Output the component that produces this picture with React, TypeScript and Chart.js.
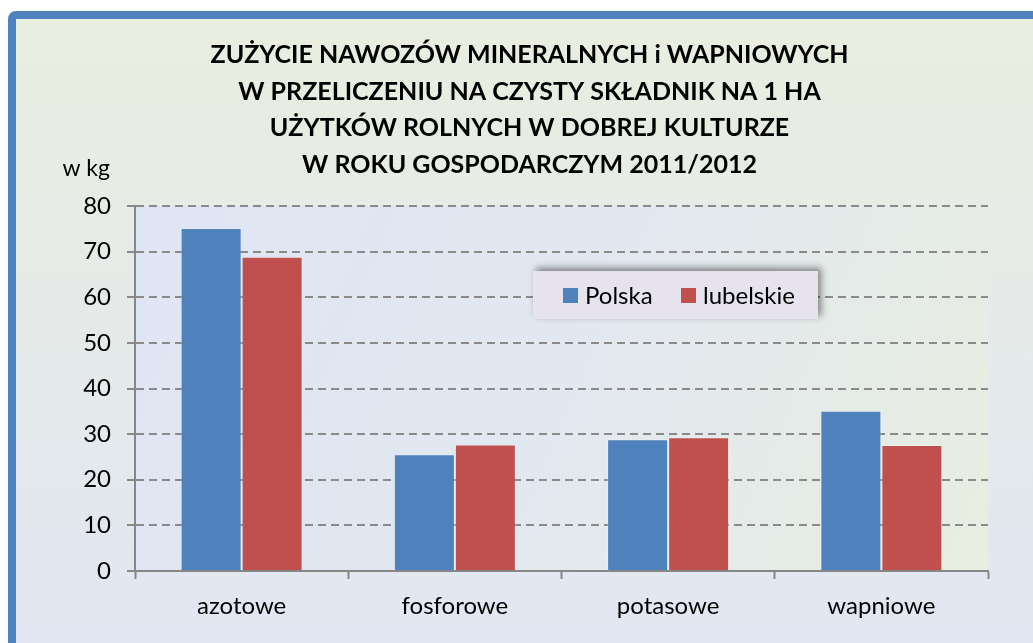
import React, { useEffect, useRef } from "react";
import { Chart, registerables } from "chart.js";

Chart.register(...registerables);

const categories = ["azotowe", "fosforowe", "potasowe", "wapniowe"];
const polska = [75.2, 25.6, 28.9, 35.1];
const lubelskie = [68.9, 27.7, 29.3, 27.6];
const seriesNames = ["Polska", "lubelskie"];
const titleLines = [
  "ZUŻYCIE NAWOZÓW MINERALNYCH i WAPNIOWYCH",
  "W PRZELICZENIU NA CZYSTY SKŁADNIK NA 1 HA",
  "UŻYTKÓW ROLNYCH W DOBREJ KULTURZE",
  "W ROKU GOSPODARCZYM 2011/2012",
];
const unitLabel = "w kg";

const BLUE = "#4f81bd";
const RED = "#c0504d";
const FONT = "Lato, 'Open Sans', sans-serif";

const plotBg = {
  id: "plotBg",
  beforeDraw(chart: any) {
    const { ctx, chartArea: a } = chart;
    const g = ctx.createLinearGradient(a.left, a.top, a.right, a.bottom);
    g.addColorStop(0, "#dfe5f3");
    g.addColorStop(0.5, "#e2e8f0");
    g.addColorStop(1, "#e8eee0");
    ctx.save();
    ctx.fillStyle = g;
    ctx.fillRect(a.left, a.top, a.right - a.left, a.bottom - a.top);
    ctx.restore();
  },
};

const extras = {
  id: "extras",
  afterDraw(chart: any) {
    const { ctx, chartArea: a, width } = chart;
    ctx.save();
    // title
    ctx.fillStyle = "#000";
    ctx.font = `bold 25px ${FONT}`;
    ctx.textAlign = "center";
    ctx.textBaseline = "alphabetic";
    titleLines.forEach((t, i) => {
      ctx.fillText(t, width / 2 + 5, 44 + i * 36.5);
    });
    // unit label
    ctx.font = `23px ${FONT}`;
    ctx.textAlign = "right";
    ctx.fillText(unitLabel, a.left - 25, a.top - 30);
    // legend box
    const bx = a.left + 398;
    const by = a.top + 65;
    const bw = 285;
    const bh = 48;
    ctx.save();
    ctx.shadowColor = "rgba(0,0,0,0.45)";
    ctx.shadowBlur = 7;
    ctx.shadowOffsetX = 3;
    ctx.shadowOffsetY = -3;
    ctx.fillStyle = "#e6e3ee";
    ctx.fillRect(bx, by, bw, bh);
    ctx.restore();
    const colors = [BLUE, RED];
    const offs = [30, 148];
    ctx.font = `24px ${FONT}`;
    ctx.textAlign = "left";
    ctx.textBaseline = "alphabetic";
    seriesNames.forEach((name, i) => {
      const mx = bx + offs[i];
      ctx.fillStyle = colors[i];
      ctx.fillRect(mx, by + 17, 15, 15);
      ctx.fillStyle = "#000";
      ctx.fillText(name, mx + 22, by + 33);
    });
    ctx.restore();
  },
};

export default function App() {
  const ref = useRef<HTMLCanvasElement>(null);
  useEffect(() => {
    if (!ref.current) return;
    const chart = new Chart(ref.current, {
      type: "bar",
      data: {
        labels: categories,
        datasets: [
          {
            label: seriesNames[0],
            data: polska,
            backgroundColor: BLUE,
            borderColor: "rgba(255,255,255,0.25)",
            borderWidth: 1,
            categoryPercentage: 0.572,
            barPercentage: 1,
          },
          {
            label: seriesNames[1],
            data: lubelskie,
            backgroundColor: RED,
            borderColor: "rgba(255,255,255,0.25)",
            borderWidth: 1,
            categoryPercentage: 0.572,
            barPercentage: 1,
          },
        ],
      },
      options: {
        animation: false,
        responsive: true,
        maintainAspectRatio: false,
        layout: { padding: { top: 187, right: 45, left: 0, bottom: 0 } },
        plugins: {
          legend: { display: false },
          title: { display: false },
          tooltip: { enabled: false },
        },
        scales: {
          x: {
            afterFit: (s: any) => {
              s.height = 72;
            },
            grid: {
              display: true,
              drawOnChartArea: false,
              drawTicks: true,
              tickLength: 8,
              tickColor: "#868686",
              tickWidth: 2,
              offset: true,
            },
            border: { display: true, color: "#868686", width: 2 },
            ticks: {
              color: "#000",
              padding: 13,
              font: { family: FONT, size: 24 },
            },
          },
          y: {
            min: 0,
            max: 80,
            afterFit: (s: any) => {
              s.width = 119;
            },
            grid: {
              color: "#8a8a8a",
              lineWidth: 2,
              tickBorderDash: [8, 5],
              tickColor: "#8a8a8a",
              tickWidth: 2,
              tickLength: 8,
            },
            border: { display: true, color: "#868686", width: 2, dash: [8, 5] },
            ticks: {
              stepSize: 10,
              color: "#000",
              padding: 16,
              font: { family: FONT, size: 24 },
            },
          },
        },
      },
      plugins: [plotBg, extras],
    });
    return () => chart.destroy();
  }, []);

  return (
    <div
      style={{
        position: "fixed",
        left: 8,
        top: 11,
        width: 1060,
        height: 660,
        boxSizing: "border-box",
        border: "8px solid #4f81bd",
        borderRadius: 8,
        background: "linear-gradient(to bottom, #e9eee0, #e1e6f3)",
      }}
    >
      <div style={{ position: "absolute", left: 0, top: 0, width: 1017, height: 624 }}>
        <canvas ref={ref} />
      </div>
    </div>
  );
}
